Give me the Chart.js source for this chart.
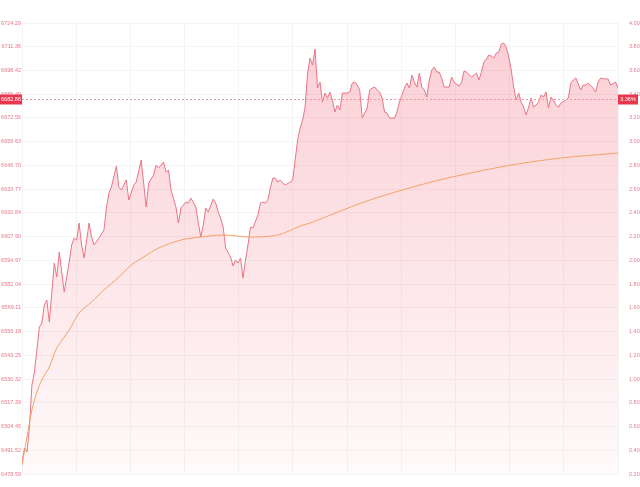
<!DOCTYPE html>
<html>
<head>
<meta charset="utf-8">
<script src="https://cdn.jsdelivr.net/npm/chart.js@4.4.0/dist/chart.umd.min.js"></script>
<style>
  html, body { margin: 0; padding: 0; background: #fff; }
  #wrap { width: 640px; height: 487px; }
</style>
</head>
<body>
<div id="wrap"><canvas id="chart"></canvas></div>
<script>
// intraday timeline, minute index 0..240
const prevClose = 6465.66;
const lastPrice = 6682.86;

const priceMinutes = [0,1,2,3,4,5,6,7,8,9,10,11,12,13,14,15,17,19,20,21,22,23,24,25,27,28,29,31,33,34,35,36,38,39,40,42,43,45,46,48,50,51,53,54,55,56,57,58,59,60,62,63,64,66,67,68,70,71,72,73,74,75,77,78,79,80,81,82,84,85,86,87,88,89,90,91,92,93,95,96,97,98,99,100,101,102,103,104,105,106,108,109,110,111,112,113,114,115,116,117,118,119,120,121,122,123,124,125,126,127,128,129,131,132,133,134,135,136,137,139,140,141,142,143,144,145,146,147,148,150,151,152,154,155,156,157,158,159,160,161,162,163,164,165,166,167,168,169,170,172,173,174,176,177,178,179,181,182,183,184,185,186,187,188,189,190,191,192,193,194,195,196,197,198,199,200,201,202,203,204,205,206,207,208,209,210,211,212,213,214,215,216,217,219,220,221,222,223,225,226,227,228,230,231,232,233,235,236,237,239,240];
const prices = [6484.58,6492.75,6490.57,6504.19,6527.07,6534.15,6546.13,6558.66,6560.84,6570.64,6573.37,6561.38,6577.18,6593.52,6585.90,6599.51,6577.73,6594.07,6603.33,6607.14,6606.05,6615.31,6603.33,6596.25,6615.31,6607.68,6603.33,6607.14,6611.50,6623.48,6631.65,6634.92,6646.36,6634.92,6633.28,6638.73,6627.84,6636.01,6637.64,6649.63,6624.02,6637.10,6641.46,6646.90,6645.27,6646.90,6648.54,6643.09,6644.18,6633.28,6624.02,6615.31,6623.48,6626.75,6626.20,6628.93,6624.02,6615.31,6607.68,6614.22,6623.48,6621.30,6628.38,6626.20,6621.30,6618.03,6613.13,6601.69,6596.79,6591.89,6595.16,6593.52,6596.25,6585.35,6595.16,6603.33,6613.13,6612.59,6619.67,6626.20,6626.75,6626.20,6627.84,6634.37,6639.82,6639.82,6637.64,6638.73,6637.10,6636.01,6637.64,6638.73,6649.63,6660.52,6667.06,6671.41,6678.49,6697.01,6705.19,6701.37,6710.09,6688.84,6692.11,6681.22,6686.12,6683.40,6686.67,6682.31,6675.77,6679.58,6676.86,6686.12,6686.12,6686.67,6691.57,6692.11,6690.48,6687.75,6672.50,6677.95,6687.75,6688.84,6689.39,6687.75,6686.67,6683.40,6675.77,6675.23,6672.50,6672.50,6675.77,6681.22,6688.84,6691.57,6688.84,6695.93,6692.11,6689.39,6697.01,6689.39,6687.75,6683.94,6693.20,6698.65,6700.28,6697.56,6697.56,6694.29,6689.39,6689.39,6694.84,6692.11,6689.93,6692.11,6698.10,6697.56,6694.84,6695.93,6697.01,6693.20,6697.56,6703.01,6704.64,6706.82,6706.27,6705.19,6707.91,6708.45,6712.81,6713.36,6711.18,6705.73,6698.65,6689.39,6682.31,6686.12,6681.22,6678.49,6674.14,6678.49,6683.40,6678.49,6679.58,6681.22,6685.03,6683.94,6686.67,6677.95,6683.94,6682.31,6679.58,6678.49,6680.67,6682.31,6683.40,6691.57,6693.20,6694.29,6687.75,6690.48,6690.48,6691.57,6688.84,6686.67,6692.11,6694.29,6693.75,6693.75,6690.48,6692.11,6688.84];

const avgMinutes = [0,2,4,6,8,11,14,19,23,28,33,39,44,49,55,64,72,81,92,103,112,116,140,168,197,217,240];
const avgPrices = [6483.49,6498.74,6513.45,6523.26,6529.79,6536.87,6547.22,6557.03,6566.29,6572.28,6578.81,6585.90,6592.43,6596.79,6601.69,6606.05,6607.68,6608.77,6607.68,6608.77,6613.68,6615.31,6627.84,6638.73,6646.90,6650.72,6653.44];

const leftTicks = [6478.59,6491.52,6504.45,6517.39,6530.32,6543.25,6556.18,6569.11,6582.04,6594.97,6607.90,6620.84,6633.77,6646.70,6659.63,6672.56,6685.49,6698.42,6711.36,6724.29];
const rightTicks = [0.20,0.40,0.60,0.80,1.00,1.20,1.40,1.60,1.80,2.00,2.20,2.40,2.60,2.80,3.00,3.20,3.40,3.60,3.80,4.00];

const labelColor = '#e9788a';
const tickFont = { family: 'Liberation Sans', size: 5.5 };

const priceData = priceMinutes.map((m, i) => ({ x: m, y: prices[i] }));
const avgData = avgMinutes.map((m, i) => ({ x: m, y: avgPrices[i] }));

// dashed last-price line + red tags on both axes
const lastPriceMarker = {
    id: 'lastPriceMarker',
    afterDraw(chart) {
        const c = chart.ctx;
        const area = chart.chartArea;
        const y = Math.round(chart.scales.y.getPixelForValue(lastPrice)) + 0.5;
        c.save();
        c.strokeStyle = '#ee9aa6';
        c.lineWidth = 1;
        c.setLineDash([2, 2]);
        c.beginPath();
        c.moveTo(area.left, y);
        c.lineTo(area.right, y);
        c.stroke();
        c.setLineDash([]);

        c.fillStyle = '#e8364f';
        c.fillRect(0, y - 5, area.left, 10);
        c.fillRect(area.right, y - 5, chart.width - area.right - 2, 10);

        c.fillStyle = '#fff';
        c.font = '5.5px "Liberation Sans"';
        c.textBaseline = 'middle';
        c.textAlign = 'center';
        c.fillText(lastPrice.toFixed(2), area.left / 2, y);
        const pct = ((lastPrice / prevClose - 1) * 100).toFixed(2) + '%';
        c.fillText(pct, (area.right + chart.width - 2) / 2, y);
        c.restore();
    }
};

new Chart(document.getElementById('chart'), {
    type: 'line',
    data: {
        datasets: [
            {
                label: 'price',
                data: priceData,
                borderColor: '#ea7485',
                borderWidth: 1,
                pointRadius: 0,
                tension: 0,
                fill: 'start',
                backgroundColor: (ctx) => {
                    const area = ctx.chart.chartArea;
                    if (!area) return 'rgba(238,80,100,0.2)';
                    const g = ctx.chart.ctx.createLinearGradient(0, area.top, 0, area.bottom);
                    g.addColorStop(0, 'rgba(240,85,105,0.29)');
                    g.addColorStop(1, 'rgba(240,85,105,0.03)');
                    return g;
                },
                order: 2
            },
            {
                label: 'avg',
                data: avgData,
                borderColor: '#f2a266',
                borderWidth: 1,
                pointRadius: 0,
                tension: 0.3,
                fill: false,
                order: 1
            }
        ]
    },
    options: {
        responsive: true,
        maintainAspectRatio: false,
        animation: false,
        devicePixelRatio: 1,
        layout: { padding: { top: 23, bottom: 13, left: 0, right: 0 } },
        plugins: { legend: { display: false }, tooltip: { enabled: false } },
        scales: {
            x: {
                type: 'linear',
                min: 0,
                max: 240,
                ticks: { display: false, count: 12 },
                grid: { color: '#f4f4f4', drawTicks: false },
                border: { display: false },
                afterFit: (s) => { s.height = 0; }
            },
            y: {
                position: 'left',
                min: leftTicks[0],
                max: leftTicks[leftTicks.length - 1],
                afterBuildTicks: (s) => { s.ticks = leftTicks.map(v => ({ value: v })); },
                ticks: {
                    color: labelColor,
                    font: tickFont,
                    padding: 1,
                    callback: (v) => v.toFixed(2)
                },
                grid: { color: '#f4f4f4', drawTicks: false },
                border: { display: false },
                afterFit: (s) => { s.width = 22; }
            },
            y1: {
                position: 'right',
                min: rightTicks[0],
                max: rightTicks[rightTicks.length - 1],
                afterBuildTicks: (s) => { s.ticks = rightTicks.map(v => ({ value: v })); },
                ticks: {
                    color: labelColor,
                    font: tickFont,
                    padding: 3,
                    callback: (v) => v.toFixed(2) + '%'
                },
                grid: { display: false },
                border: { display: false },
                afterFit: (s) => { s.width = 22; }
            }
        }
    },
    plugins: [lastPriceMarker]
});
</script>
</body>
</html>
